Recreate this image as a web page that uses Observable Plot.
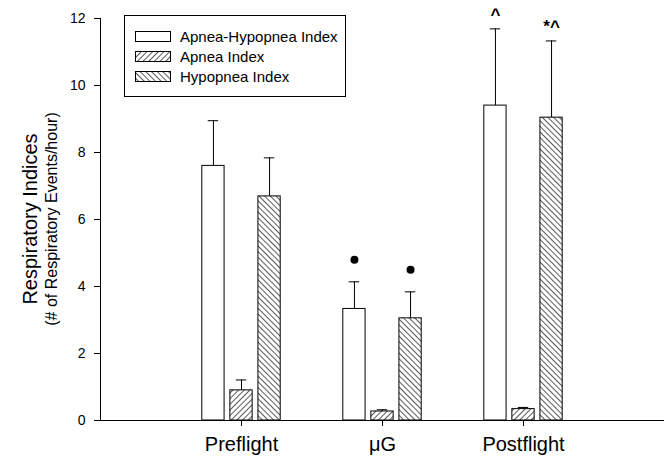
<!DOCTYPE html>
<html>
<head>
<meta charset="utf-8">
<script src="https://cdn.jsdelivr.net/npm/d3@7"></script>
<script src="https://cdn.jsdelivr.net/npm/@observablehq/plot@0.6"></script>
<style>
  html, body { margin: 0; padding: 0; background: #fff; }
  svg { font-family: "Liberation Sans", Arial, Helvetica, sans-serif; }
</style>
</head>
<body>
<div id="chart"></div>
<script>
// ---- data ----
const categories = ["Preflight", "\u03bcG", "Postflight"];
const seriesNames = ["Apnea-Hypopnea Index", "Apnea Index", "Hypopnea Index"];
const ahiMean = [7.6, 3.33, 9.4];
const ahiSem = [1.35, 0.81, 2.29];
const apneaMean = [0.9, 0.27, 0.34];
const apneaSem = [0.31, 0.05, 0.05];
const hypMean = [6.69, 3.05, 9.04];
const hypSem = [1.15, 0.79, 2.29];
const yTicks = [0, 2, 4, 6, 8, 10, 12];
// significance markers: [category, series, symbol]
const markers = [
  ["\u03bcG", "Apnea-Hypopnea Index", "dot"],
  ["\u03bcG", "Hypopnea Index", "dot"],
  ["Postflight", "Apnea-Hypopnea Index", "^"],
  ["Postflight", "Hypopnea Index", "*^"]
];

// ---- build table ----
const means = [ahiMean, apneaMean, hypMean];
const sems = [ahiSem, apneaSem, hypSem];
const fills = ["white", "url(#hatchApnea)", "url(#hatchHyp)"];
const pitch = 0.199, halfW = 0.079;
const rows = [];
categories.forEach((c, i) => {
  seriesNames.forEach((s, j) => {
    const cx = (i + 1) + (j - 1) * pitch;
    rows.push({cat: c, series: s, j, cx, x1: cx - halfW, x2: cx + halfW,
      mean: means[j][i], top: means[j][i] + sems[j][i]});
  });
});
const find = (c, s) => rows.find(r => r.cat === c && r.series === s);
const dotMarks = markers.filter(m => m[2] === "dot").map(m => find(m[0], m[1]));
const textMarks = markers.filter(m => m[2] !== "dot").map(m => ({...find(m[0], m[1]), label: m[2]}));

const barMarks = [0, 1, 2].map(j =>
  Plot.rectY(rows.filter(r => r.j === j), {
    x1: "x1", x2: "x2", y1: 0, y2: "mean",
    fill: fills[j], stroke: "black", strokeWidth: 1
  })
);

const chart = Plot.plot({
  width: 664,
  height: 462,
  marginLeft: 100,
  marginRight: 0,
  marginTop: 18,
  marginBottom: 42,
  style: {fontFamily: "Liberation Sans, Arial, sans-serif", color: "black", background: "white"},
  x: {domain: [0, 4], axis: null},
  y: {domain: [0, 12], axis: null},
  marks: [
    Plot.ruleX(rows, {x: "cx", y1: "mean", y2: "top", stroke: "black", strokeWidth: 1}),
    Plot.ruleY(rows, {y: "top", x1: d => d.cx - 0.037, x2: d => d.cx + 0.037, stroke: "black", strokeWidth: 1}),
    ...barMarks,
    Plot.ruleY([0], {stroke: "black", strokeWidth: 1}),
    Plot.ruleX([0], {stroke: "black", strokeWidth: 1}),
    Plot.axisY(yTicks, {anchor: "left", tickSize: 6, tickPadding: 9, fontSize: 14, label: null, stroke: "black"}),
    Plot.axisX([1, 2, 3], {anchor: "bottom", tickSize: 6, tickPadding: 10, fontSize: 20, label: null,
      tickFormat: d => categories[d - 1], stroke: "black"}),
    Plot.dot(dotMarks, {x: "cx", y: "top", dy: -22, r: 4, fill: "black", stroke: "none"}),
    Plot.text(textMarks, {x: "cx", y: "top", text: "label", dy: -14, fontSize: 17, fontWeight: "bold", fill: "black"})
  ]
});

// hatch patterns
const svg = d3.select(chart);
const defs = svg.insert("defs", ":first-child");
function hatch(id, angle) {
  const p = defs.append("pattern").attr("id", id).attr("patternUnits", "userSpaceOnUse")
    .attr("width", 4).attr("height", 4).attr("patternTransform", `rotate(${angle})`);
  p.append("rect").attr("width", 4).attr("height", 4).attr("fill", "white");
  p.append("line").attr("x1", 0).attr("y1", 0).attr("x2", 0).attr("y2", 4)
    .attr("stroke", "black").attr("stroke-width", 1.3);
}
hatch("hatchApnea", 45);
hatch("hatchHyp", -45);

// y-axis titles
const yt = svg.append("g").attr("transform", "translate(37,219) rotate(-90)").attr("text-anchor", "middle");
yt.append("text").attr("y", 0).attr("font-size", 20).attr("fill", "black").text("Respiratory Indices");
yt.append("text").attr("y", 20).attr("font-size", 16).attr("fill", "black").text("(# of Respiratory Events/hour)");

// legend
const lg = svg.append("g").attr("text-anchor", "start");
lg.append("rect").attr("x", 124.5).attr("y", 15.5).attr("width", 221).attr("height", 81)
  .attr("fill", "white").attr("stroke", "black").attr("stroke-width", 1);
seriesNames.forEach((s, j) => {
  const y = 31 + j * 20;
  lg.append("rect").attr("x", 135.5).attr("y", y + 0.5).attr("width", 35).attr("height", 10)
    .attr("fill", fills[j]).attr("stroke", "black").attr("stroke-width", 1);
  lg.append("text").attr("x", 180).attr("y", y + 11).attr("font-size", 15)
    .attr("text-anchor", "start").attr("fill", "black").text(s);
});

document.getElementById("chart").appendChild(chart);
</script>
</body>
</html>
